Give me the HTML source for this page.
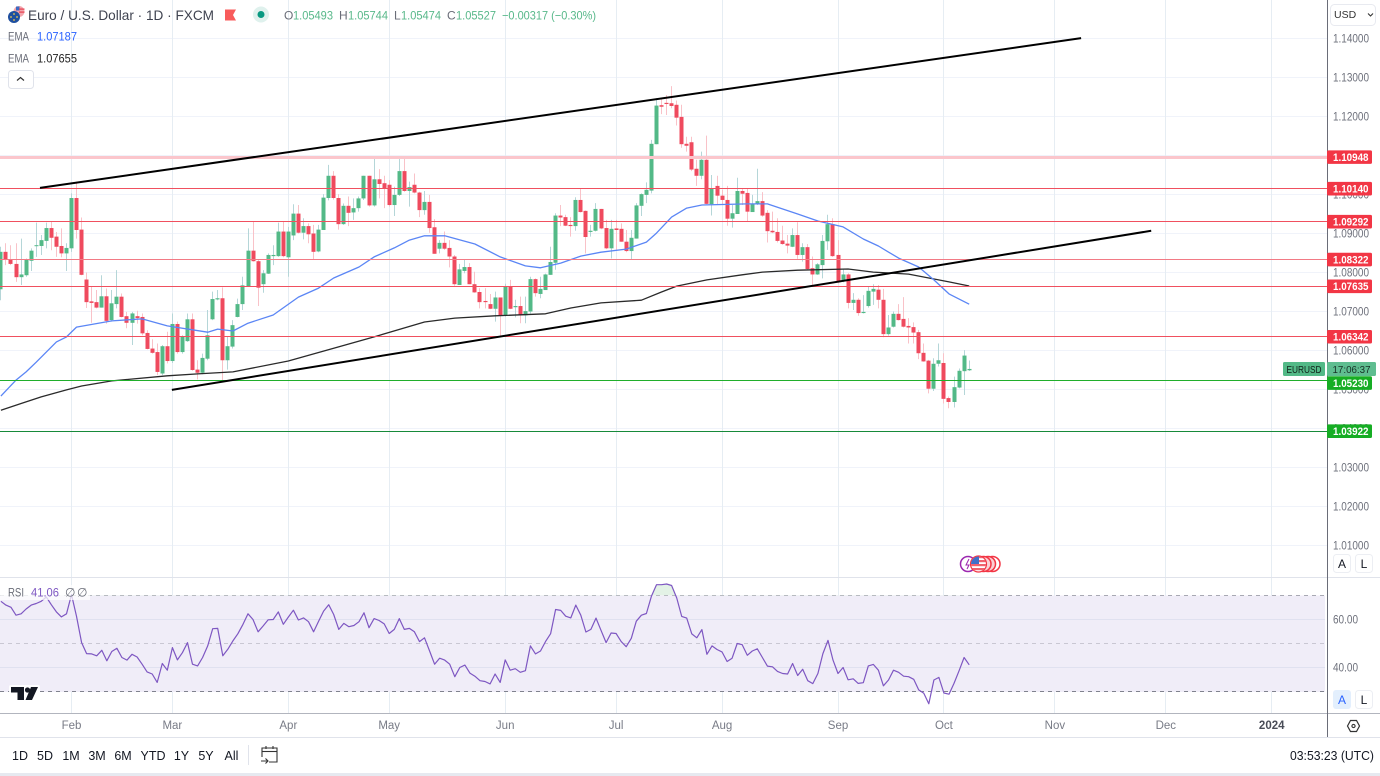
<!DOCTYPE html>
<html lang="en">
<head>
<meta charset="utf-8">
<title>EUR/USD Daily Chart</title>
<style>
html,body{margin:0;padding:0;background:#fff;width:1380px;height:776px;overflow:hidden}
svg{display:block;font-family:"Liberation Sans",sans-serif}
text{white-space:pre}
</style>
</head>
<body>
<svg id="chart" xmlns="http://www.w3.org/2000/svg" width="1380" height="776" viewBox="0 0 1380 776">
  <defs>
    <clipPath id="price-clip"><rect x="0" y="0" width="1327" height="577"/></clipPath>
    <clipPath id="rsi-clip"><rect x="0" y="578" width="1327" height="135"/></clipPath>
    <clipPath id="rsi-over-clip"><rect x="0" y="578" width="1325" height="17.5"/></clipPath>
    <clipPath id="us-flag-clip"><circle cx="978.5" cy="564" r="7.5"/></clipPath>
  </defs>
  <rect x="0" y="0" width="1380" height="776" fill="#ffffff"/>
  <g id="grid-layer"></g>
  <rect x="0" y="595.5" width="1325" height="96.5" fill="#f0edf8"/>
  <g id="rsi-grid-layer"></g>
  <g id="candle-layer" clip-path="url(#price-clip)"></g>
  <g id="overlay-layer" clip-path="url(#price-clip)"></g>
  <g id="rsi-layer" clip-path="url(#rsi-clip)"></g>

  <!-- frame lines -->
  <rect x="0" y="577" width="1380" height="1" fill="#e0e3eb"/>
  <rect x="0" y="713" width="1380" height="1" fill="#b2b5be"/>
  <rect x="1327" y="0" width="1" height="737" fill="#6a6d78"/>
  <rect x="0" y="737" width="1380" height="1" fill="#e0e3eb"/>
  <rect x="0" y="773" width="1380" height="3" fill="#e6e9f0"/>

  <g id="axis-layer"></g>

  <!-- legend -->
  <g>
    <circle cx="19" cy="11.5" r="5.5" fill="#f3a5ad"/>
    <rect x="16" y="6.5" width="3.5" height="4" fill="#3b6cc2"/>
    <rect x="19" y="8.5" width="5.5" height="1.2" fill="#e5404f"/>
    <rect x="19" y="11.5" width="5.5" height="1.2" fill="#e5404f"/>
    <circle cx="14" cy="17" r="6" fill="#1f4f9f"/>
    <circle cx="14" cy="14" r=".9" fill="#f2c94c"/>
    <circle cx="11" cy="17" r=".9" fill="#f2c94c"/>
    <circle cx="17" cy="17" r=".9" fill="#f2c94c"/>
    <circle cx="14" cy="20" r=".9" fill="#f2c94c"/>
  </g>
  <text x="28" y="20" font-size="14" fill="#3f4350" textLength="186" lengthAdjust="spacingAndGlyphs">Euro / U.S. Dollar · 1D · FXCM</text>
  <path d="M225 9.5H236L233 15L236 20.5H225Z" fill="#f85b5b"/>
  <circle cx="261" cy="14.5" r="8" fill="#dff1ed"/>
  <circle cx="261" cy="14.5" r="3.5" fill="#089981"/>
  <g font-size="12">
    <text x="284" y="19.5" fill="#6a6d78">O</text>
    <text x="293" y="19.5" fill="#58b88a" textLength="40" lengthAdjust="spacingAndGlyphs">1.05493</text>
    <text x="339" y="19.5" fill="#6a6d78">H</text>
    <text x="348" y="19.5" fill="#58b88a" textLength="40" lengthAdjust="spacingAndGlyphs">1.05744</text>
    <text x="394" y="19.5" fill="#6a6d78">L</text>
    <text x="401" y="19.5" fill="#58b88a" textLength="40" lengthAdjust="spacingAndGlyphs">1.05474</text>
    <text x="447" y="19.5" fill="#6a6d78">C</text>
    <text x="456" y="19.5" fill="#58b88a" textLength="40" lengthAdjust="spacingAndGlyphs">1.05527</text>
    <text x="502" y="19.5" fill="#58b88a" textLength="94" lengthAdjust="spacingAndGlyphs">−0.00317 (−0.30%)</text>
  </g>
  <g font-size="12">
    <text x="8" y="40.5" fill="#6a6d78" textLength="21" lengthAdjust="spacingAndGlyphs">EMA</text>
    <text x="37" y="40.5" fill="#2962ff" textLength="40" lengthAdjust="spacingAndGlyphs">1.07187</text>
  </g>
  <g font-size="12">
    <text x="8" y="62.5" fill="#6a6d78" textLength="21" lengthAdjust="spacingAndGlyphs">EMA</text>
    <text x="37" y="62.5" fill="#222" textLength="40" lengthAdjust="spacingAndGlyphs">1.07655</text>
  </g>
  <g>
    <rect x="8.5" y="70.5" width="25" height="18" rx="3" fill="#fff" stroke="#e0e3eb"/>
    <path d="M17 80.5L20.5 77.5L24 80.5" fill="none" stroke="#333" stroke-width="1.2"/>
  </g>

  <!-- RSI legend -->
  <rect x="0" y="585" width="90" height="15" fill="#fff" opacity=".72"/>
  <g font-size="12">
    <text x="8" y="596.5" fill="#6a6d78" textLength="16" lengthAdjust="spacingAndGlyphs">RSI</text>
    <text x="31" y="596.5" fill="#7e57c2" textLength="28" lengthAdjust="spacingAndGlyphs">41.06</text>
    <text x="65" y="596.5" fill="#6a6d78">∅</text>
    <text x="77" y="596.5" fill="#6a6d78">∅</text>
  </g>

  <!-- TV logo -->
  <g>
    <rect x="9" y="685" width="31" height="17" rx="2" fill="#fff" opacity=".9"/>
    <path d="M11 687H24V700H17.5V692.5H11Z" fill="#131722"/>
    <circle cx="27.5" cy="690" r="2.6" fill="#131722"/>
    <path d="M31 687H38L32 700H25.5Z" fill="#131722"/>
  </g>

  <!-- events -->
  <g>
    <circle cx="968" cy="564" r="7.5" fill="#fff" stroke="#9c27b0" stroke-width="1.5"/>
    <path d="M969 559L966 565H969L967 569" fill="none" stroke="#9c27b0"/>
    <circle cx="992.5" cy="564" r="7.5" fill="#fff" stroke="#f23645" stroke-width="1.5"/>
    <circle cx="988" cy="564" r="7.5" fill="#fbd0d4" stroke="#f23645" stroke-width="1.5"/>
    <circle cx="983.5" cy="564" r="7.5" fill="#fbd0d4" stroke="#f23645" stroke-width="1.5"/>
    <circle cx="978.5" cy="564" r="8" fill="#fff" stroke="#f23645" stroke-width="1.2"/>
    <g clip-path="url(#us-flag-clip)">
      <rect x="970" y="556" width="17" height="2.2" fill="#f0616d"/>
      <rect x="970" y="560" width="17" height="2.2" fill="#f0616d"/>
      <rect x="970" y="564" width="17" height="2.2" fill="#f0616d"/>
      <rect x="970" y="568" width="17" height="2.2" fill="#f0616d"/>
      <rect x="970" y="556" width="9" height="8" fill="#3f6fc9"/>
    </g>
  </g>

  <!-- USD selector -->
  <g>
    <rect x="1330.5" y="4.5" width="45" height="21" rx="4" fill="#fff" stroke="#e8eaf0"/>
    <text x="1334" y="18" font-size="10.5" fill="#333">USD</text>
    <path d="M1368 13.5L1370.5 16L1373 13.5" fill="none" stroke="#333" stroke-width="1.1"/>
  </g>

  <!-- series label -->
  <g>
    <rect x="1283" y="362" width="42" height="14" rx="1.5" fill="#53b987"/>
    <text x="1304" y="372.8" font-size="10.5" fill="#102018" text-anchor="middle" textLength="35" lengthAdjust="spacingAndGlyphs">EURUSD</text>
    <rect x="1327" y="362" width="49" height="14" rx="1.5" fill="#5fbd90"/>
    <text x="1351.5" y="372.8" font-size="10.5" fill="#173026" text-anchor="middle" textLength="38" lengthAdjust="spacingAndGlyphs">17:06:37</text>
  </g>

  <!-- scale buttons -->
  <g>
    <rect x="1333.5" y="554.5" width="17" height="18" rx="3" fill="#fff" stroke="#eceef3"/>
    <text x="1342" y="568" font-size="12" fill="#131722" text-anchor="middle">A</text>
  </g>
  <g>
    <rect x="1355.5" y="554.5" width="17" height="18" rx="3" fill="#fff" stroke="#eceef3"/>
    <text x="1364" y="568" font-size="12" fill="#131722" text-anchor="middle">L</text>
  </g>
  <g>
    <rect x="1333" y="690" width="18" height="19" rx="3" fill="#e3effd"/>
    <text x="1342" y="704" font-size="12" fill="#2962ff" text-anchor="middle">A</text>
  </g>
  <g>
    <rect x="1355.5" y="690.5" width="17" height="18" rx="3" fill="#fff" stroke="#eceef3"/>
    <text x="1364" y="704" font-size="12" fill="#131722" text-anchor="middle">L</text>
  </g>
  <g>
    <path d="M1347.5 726L1350.5 720.5H1356.5L1359.5 726L1356.5 731.5H1350.5Z" fill="none" stroke="#333" stroke-width="1.2"/>
    <circle cx="1353.5" cy="726" r="1.6" fill="none" stroke="#333" stroke-width="1.1"/>
  </g>

  <!-- bottom toolbar -->
  <g font-size="12.5" fill="#131722" text-anchor="middle">
    <text x="20" y="760">1D</text>
    <text x="45" y="760">5D</text>
    <text x="71" y="760">1M</text>
    <text x="97" y="760">3M</text>
    <text x="123" y="760">6M</text>
    <text x="153" y="760">YTD</text>
    <text x="181.5" y="760">1Y</text>
    <text x="206" y="760">5Y</text>
    <text x="231.5" y="760">All</text>
  </g>
  <rect x="248" y="745" width="1" height="20" fill="#e0e3eb"/>
  <g fill="none" stroke="#333" stroke-width="1.1">
    <path d="M262 757V748H277V762H269"/>
    <path d="M262 751.5H277"/>
    <path d="M266 746V749M273 746V749"/>
    <path d="M261 761H268M265.5 758.5L268 761L265.5 763.5"/>
  </g>
  <text x="1374" y="760" font-size="12.5" fill="#131722" text-anchor="end" textLength="84" lengthAdjust="spacingAndGlyphs">03:53:23 (UTC)</text>
</svg>

<script>
// ===== chart data =====
const opens = [
1.0757,1.0853,1.0834,1.0822,1.0788,1.0793,1.0830,1.0868,1.0868,1.0881,
1.0914,1.0892,1.0868,1.0849,1.0862,1.0991,1.0910,1.0782,1.0726,1.0724,
1.0710,1.0739,1.0678,1.0719,1.0738,1.0688,1.0671,1.0688,1.0686,1.0645,
1.0605,1.0596,1.0541,1.0611,1.0573,1.0668,1.0596,1.0624,1.0680,1.0551,
1.0543,1.0579,1.0680,1.0731,1.0734,1.0575,1.0610,1.0686,1.0719,1.0765,
1.0856,1.0829,1.0770,1.0797,1.0842,1.0842,1.0905,1.0839,1.0895,1.0951,
1.0902,1.0919,1.0900,1.0854,1.0909,1.0991,1.1048,1.0991,1.0924,1.0971,
1.0954,1.0965,1.0990,1.1048,1.0972,1.1039,1.1029,1.1025,1.0973,1.0999,
1.1060,1.1009,1.1025,1.1005,1.0960,1.0981,1.0916,1.0861,1.0876,1.0863,
1.0841,1.0768,1.0804,1.0814,1.0770,1.0750,1.0727,1.0719,1.0707,1.0736,
1.0689,1.0764,1.0711,1.0714,1.0690,1.0700,1.0783,1.0745,1.0755,1.0794,
1.0825,1.0946,1.0942,1.0922,1.0919,1.0986,1.0958,1.0904,1.0907,1.0963,
1.0914,1.0862,1.0913,1.0912,1.0879,1.0855,1.0887,1.0971,1.0999,1.1010,
1.1129,1.1229,1.1235,1.1234,1.1230,1.1199,1.1130,1.1134,1.1066,1.1048,
1.1089,1.0975,1.1022,1.0997,1.0986,1.0938,1.0950,1.1009,1.1004,1.0955,
1.0975,1.0983,1.0953,1.0907,1.0904,1.0882,1.0874,1.0866,1.0896,1.0845,
1.0865,1.0811,1.0795,1.0819,1.0880,1.0924,1.0845,1.0777,1.0795,1.0722,
1.0730,1.0696,1.0714,1.0751,1.0756,1.0730,1.0642,1.0661,1.0694,1.0681,
1.0663,1.0660,1.0647,1.0594,1.0574,1.0502,1.0566,1.0568,1.0478,1.0468,
1.0505,1.0547,1.05493];
const closes = [
1.0853,1.0834,1.0822,1.0788,1.0795,1.0834,1.0856,1.0870,1.0883,1.0914,
1.0889,1.0866,1.0849,1.0863,1.0991,1.0909,1.0794,1.0724,1.0722,1.0710,
1.0739,1.0676,1.0721,1.0738,1.0686,1.0671,1.0695,1.0683,1.0644,1.0604,
1.0594,1.0545,1.0611,1.0573,1.0668,1.0596,1.0635,1.0680,1.0550,1.0543,
1.0581,1.0639,1.0732,1.0734,1.0575,1.0611,1.0665,1.0719,1.0767,1.0856,
1.0829,1.0761,1.0798,1.0845,1.0845,1.0905,1.0842,1.0905,1.0951,1.0902,
1.0919,1.0898,1.0853,1.0910,1.0992,1.1048,1.0991,1.0924,1.0971,1.0953,
1.0965,1.0990,1.1048,1.0972,1.1039,1.1027,1.1015,1.0973,1.0999,1.1060,
1.1009,1.1019,1.1005,1.0960,1.0981,1.0914,1.0848,1.0876,1.0861,1.0841,
1.0770,1.0808,1.0814,1.0770,1.0749,1.0724,1.0724,1.0707,1.0736,1.0689,
1.0764,1.0707,1.0714,1.0690,1.0701,1.0783,1.0747,1.0758,1.0795,1.0827,
1.0946,1.0941,1.0920,1.0919,1.0986,1.0955,1.0891,1.0907,1.0963,1.0913,
1.0862,1.0912,1.0909,1.0879,1.0855,1.0889,1.0972,1.1001,1.1012,1.1130,
1.1228,1.1225,1.1232,1.1227,1.1197,1.1129,1.1125,1.1064,1.1048,1.1089,
1.0976,1.1016,1.0997,1.0986,1.0938,1.0952,1.1009,1.1002,1.0956,1.0975,
1.0983,1.0946,1.0906,1.0903,1.0881,1.0873,1.0869,1.0896,1.0845,1.0865,
1.0809,1.0795,1.0821,1.0881,1.0924,1.0842,1.0775,1.0795,1.0722,1.0730,
1.0696,1.0699,1.0753,1.0758,1.0730,1.0642,1.0659,1.0694,1.0678,1.0661,
1.0659,1.0646,1.0593,1.0572,1.0502,1.0566,1.0575,1.0476,1.0468,1.0506,
1.0548,1.0587,1.05527];
const highs = [
1.0866,1.0875,1.0870,1.0875,1.0887,1.0836,1.0862,1.0928,1.0896,1.0928,
1.0930,1.0904,1.0913,1.0875,1.1003,1.1033,1.0941,1.0800,1.0765,1.0755,
1.0793,1.0759,1.0755,1.0806,1.0746,1.0699,1.0699,1.0702,1.0695,1.0652,
1.0629,1.0618,1.0614,1.0648,1.0695,1.0674,1.0639,1.0695,1.0695,1.0575,
1.0592,1.0704,1.0751,1.0755,1.0762,1.0635,1.0678,1.0733,1.0789,1.0913,
1.0931,1.0832,1.0806,1.0849,1.0870,1.0928,1.0930,1.0917,1.0975,1.0973,
1.0939,1.0926,1.0922,1.0922,1.1001,1.1076,1.1060,1.1001,1.0977,1.0995,
1.0990,1.0995,1.1048,1.1048,1.1096,1.1065,1.1048,1.1037,1.1020,1.1096,
1.1096,1.1033,1.1054,1.1007,1.1009,1.0999,1.0937,1.0883,1.0905,1.0883,
1.0845,1.0822,1.0834,1.0824,1.0802,1.0760,1.0760,1.0745,1.0751,1.0736,
1.0771,1.0781,1.0730,1.0738,1.0738,1.0789,1.0785,1.0789,1.0797,1.0866,
1.0952,1.0973,1.0948,1.0942,1.0993,1.1014,1.0959,1.0922,1.0978,1.0963,
1.0935,1.0935,1.0935,1.0926,1.0909,1.0909,1.0978,1.1003,1.1031,1.1140,
1.1247,1.1247,1.1255,1.1278,1.1241,1.1230,1.1148,1.1148,1.1089,1.1110,
1.1151,1.1050,1.1048,1.1012,1.1022,1.0973,1.1043,1.1016,1.1016,1.0999,
1.1066,1.1006,1.0960,1.0956,1.0939,1.0920,1.0896,1.0913,1.0929,1.0875,
1.0873,1.0841,1.0824,1.0896,1.0948,1.0939,1.0883,1.0809,1.0798,1.0747,
1.0734,1.0742,1.0764,1.0770,1.0768,1.0758,1.0691,1.0700,1.0719,1.0737,
1.0683,1.0672,1.0653,1.0618,1.0576,1.0580,1.0618,1.0593,1.0482,1.0533,
1.0554,1.0601,1.05744];
const lows = [
1.0729,1.0819,1.0819,1.0776,1.0768,1.0789,1.0804,1.0840,1.0845,1.0862,
1.0857,1.0840,1.0839,1.0804,1.0853,1.0887,1.0793,1.0709,1.0671,1.0708,
1.0710,1.0669,1.0674,1.0708,1.0685,1.0657,1.0614,1.0669,1.0639,1.0603,
1.0592,1.0537,1.0537,1.0567,1.0568,1.0592,1.0592,1.0622,1.0548,1.0526,
1.0539,1.0575,1.0678,1.0729,1.0524,1.0551,1.0605,1.0685,1.0704,1.0763,
1.0828,1.0714,1.0748,1.0796,1.0819,1.0840,1.0839,1.0789,1.0883,1.0900,
1.0885,1.0875,1.0834,1.0852,1.0909,1.0985,1.0987,1.0910,1.0922,1.0919,
1.0935,1.0956,1.0986,1.0969,1.0969,1.0990,1.0965,1.0969,1.0945,1.0996,
1.1007,1.0969,1.1003,1.0942,1.0948,1.0902,1.0848,1.0849,1.0858,1.0813,
1.0766,1.0768,1.0798,1.0770,1.0748,1.0708,1.0708,1.0706,1.0674,1.0636,
1.0687,1.0706,1.0685,1.0670,1.0670,1.0695,1.0738,1.0734,1.0755,1.0794,
1.0807,1.0919,1.0919,1.0892,1.0907,1.0954,1.0849,1.0892,1.0905,1.0911,
1.0860,1.0836,1.0858,1.0879,1.0852,1.0834,1.0887,1.0945,1.0978,1.1003,
1.1129,1.1206,1.1204,1.1221,1.1177,1.1120,1.1110,1.1060,1.1022,1.1039,
1.0975,1.0946,1.0973,1.0973,1.0920,1.0915,1.0950,1.0973,1.0932,1.0955,
1.0973,1.0943,1.0877,1.0901,1.0877,1.0871,1.0849,1.0865,1.0835,1.0828,
1.0806,1.0768,1.0794,1.0785,1.0858,1.0840,1.0772,1.0775,1.0708,1.0704,
1.0689,1.0695,1.0710,1.0717,1.0708,1.0634,1.0638,1.0659,1.0677,1.0659,
1.0618,1.0618,1.0578,1.0571,1.0490,1.0496,1.0559,1.0464,1.0452,1.0454,
1.0503,1.0486,1.05474];
const rsiValues = [
67.5,65.9,65.0,61.7,62.3,64.3,65.9,66.6,67.5,69.3,
66.1,63.1,61.0,62.3,70.3,61.3,50.3,45.7,45.6,44.8,
47.1,42.7,46.6,47.9,44.1,43.0,45.4,44.3,41.3,38.1,
37.2,33.7,41.6,38.8,48.2,43.1,46.1,50.3,41.3,40.6,
44.1,48.9,56.1,56.2,44.8,47.5,51.0,54.0,57.9,62.3,
59.9,54.8,57.2,59.8,59.9,63.1,57.9,60.9,63.8,59.7,
60.6,59.0,54.8,59.2,63.4,66.1,62.0,55.8,58.3,56.9,
57.4,59.0,62.7,56.5,60.3,59.5,58.1,54.1,55.8,60.3,
55.8,56.2,54.8,50.7,52.3,46.8,41.3,43.8,43.0,41.3,
36.1,39.9,40.9,37.6,36.3,34.4,34.1,33.1,37.2,33.7,
43.1,38.8,39.4,37.9,38.6,48.9,45.6,46.8,50.7,54.0,
64.1,63.7,61.3,60.6,65.9,61.7,54.7,55.8,60.5,55.4,
50.3,54.3,54.1,50.7,48.6,52.1,59.2,61.7,62.4,69.6,
74.4,74.4,74.7,74.1,68.9,61.2,60.5,53.9,52.3,55.7,
45.4,48.9,47.4,46.4,42.4,43.8,49.9,49.4,45.0,46.8,
47.7,44.1,40.5,40.2,38.3,37.4,37.2,41.6,36.6,39.2,
34.4,33.2,37.4,45.7,51.2,43.0,37.4,39.9,34.8,35.2,
33.3,33.6,40.6,41.2,38.8,32.3,34.7,38.8,37.9,36.3,
36.1,35.0,30.6,29.2,24.8,34.7,35.8,29.3,28.8,33.3,
38.6,44.1,41.06];
const firstBar = -14;

const ema50Bars = [-14,-11,-9,-7,-3,-1,1,8,14,19,27,29,32,35,40,45,49,52,57,60,64,67,70,74,80,85,90,93,97,101,105,110,114,116,119,122,125,134,138,144,148,153,157,160,164,168,171,174,178];
const ema50Values = [1.0483,1.0524,1.0545,1.0570,1.0622,1.0635,1.0660,1.0676,1.0681,1.0663,1.0647,1.0655,1.0650,1.0670,1.0691,1.0737,1.0760,1.0786,1.0814,1.0840,1.0863,1.0883,1.0894,1.0894,1.0873,1.0840,1.0817,1.0812,1.0824,1.0842,1.0852,1.0860,1.0878,1.0901,1.0942,1.0965,1.0973,1.0976,1.0976,1.0950,1.0932,1.0917,1.0886,1.0868,1.0837,1.0814,1.0781,1.0745,1.07187];
const ema200Bars = [-14,-10,-6,-1,2,8,19,25,32,43,52,60,70,76,84,94,99,105,113,117,120,126,133,137,144,154,159,166,174,178];
const ema200Values = [1.0447,1.0464,1.0481,1.0499,1.0509,1.0522,1.0535,1.0540,1.0545,1.0573,1.0606,1.0635,1.0673,1.0683,1.0689,1.0694,1.0709,1.0722,1.0729,1.0750,1.0765,1.0781,1.0794,1.0801,1.0806,1.0809,1.0801,1.0796,1.0776,1.07655];

const trendUpperBars = [-6.25,200.2];
const trendUpperPrices = [1.1017,1.1401];
const trendLowerBars = [19.9,214.1];
const trendLowerPrices = [1.0499,1.0907];

const levelPrices = [1.10948,1.10140,1.09292,1.08322,1.07635,1.06342,1.05230,1.03922];
const levelLabels = ["1.10948","1.10140","1.09292","1.08322","1.07635","1.06342","1.05230","1.03922"];
const levelKinds = ["soft","res","res","pale","res","res","sup","supdark"];

const priceTicks = [1.14,1.13,1.12,1.11,1.10,1.09,1.08,1.07,1.06,1.05,1.04,1.03,1.02,1.01];
const priceTickLabels = ["1.14000","1.13000","1.12000","1.11000","1.10000","1.09000","1.08000","1.07000","1.06000","1.05000","1.04000","1.03000","1.02000","1.01000"];
const rsiTicks = [60,40];
const rsiTickLabels = ["60.00","40.00"];
const rsiBandLevels = [70,50,30];
const rsiBandColors = ["#a8a9b3","#c9c7d3","#80828e"];
const monthBars = [0,20,43,63,86,108,129,152,173,195,217,238];
const monthLabels = ["Feb","Mar","Apr","May","Jun","Jul","Aug","Sep","Oct","Nov","Dec","2024"];

// ===== axis functions =====
function xScale(bar){ return 71.5 + bar * 5.043; }
function yScale(price){ return 38.5 + (1.14 - price) * 3900; }
function rsiScale(v){ return 619.3 + (60 - v) * 2.4; }
function crisp(v){ return Math.floor(v) + 0.5; }

const NS = 'http://www.w3.org/2000/svg';
function make(tag, attrs, parent){
  const el = document.createElementNS(NS, tag);
  for (const k in attrs) el.setAttribute(k, attrs[k]);
  parent.appendChild(el);
  return el;
}
const grid = document.getElementById('grid-layer');
const rsiGrid = document.getElementById('rsi-grid-layer');
const candleLayer = document.getElementById('candle-layer');
const overlay = document.getElementById('overlay-layer');
const rsiLayer = document.getElementById('rsi-layer');
const axisLayer = document.getElementById('axis-layer');

// horizontal price grid + tick labels
priceTicks.forEach(function(p, i){
  const y = crisp(yScale(p));
  const line = make('line', {x1:0, x2:1327, y1:y, y2:y, stroke:'#f0f3fa', 'stroke-width':1}, grid);
  
  
  const t = make('text', {x:1333, y:y+4, 'font-size':11.5, fill:'#6d707b', textLength:36, lengthAdjust:'spacingAndGlyphs'}, axisLayer);
  
  
  t.textContent = priceTickLabels[i];
});

// vertical month grid + labels
monthBars.forEach(function(b, i){
  const x = crisp(xScale(b));
  const line = make('line', {x1:x, x2:x, y1:0, y2:713, stroke:'#e6edf3', 'stroke-width':1}, grid);
  
  
  const isYear = monthLabels[i] === '2024';
  const t = make('text', {x:xScale(b), y:729, 'font-size':11.5, fill:isYear ? '#4a4d58' : '#787b86', 'font-weight':isYear ? 'bold' : 'normal', 'text-anchor':'middle'}, axisLayer);
  
  
  t.textContent = monthLabels[i];
});

// RSI grid and bands
rsiTicks.forEach(function(v, i){
  const y = crisp(rsiScale(v));
  const line = make('line', {x1:0, x2:1325, y1:y, y2:y, stroke:'#e0e1f0', 'stroke-width':1}, rsiGrid);
  
  
  const t = make('text', {x:1333, y:y+4, 'font-size':11.5, fill:'#6d707b', textLength:25, lengthAdjust:'spacingAndGlyphs'}, axisLayer);
  
  
  t.textContent = rsiTickLabels[i];
});
rsiBandLevels.forEach(function(v, i){
  const y = crisp(rsiScale(v));
  const line = make('line', {x1:0, x2:1325, y1:y, y2:y, stroke:rsiBandColors[i], 'stroke-width':1, 'stroke-dasharray':'4 4'}, rsiGrid);
  
  
});

// candles
closes.forEach(function(c, i){
  const bar = firstBar + i;
  const o = opens[i], up = c >= o;
  const x = xScale(bar);
  const wx = Math.round(x - 0.5) + 0.5;
  const wick = make('line', {x1:wx, x2:wx, y1:yScale(highs[i]), y2:yScale(lows[i]), stroke:up ? '#b5d6d8' : '#f9c2c8', 'stroke-width':1}, candleLayer);
  
  
  const top = yScale(Math.max(o, c)), bot = yScale(Math.min(o, c));
  const body = make('rect', {x:wx - 2, y:top, width:4, height:Math.max(bot - top, 1), fill:up ? '#53b987' : '#ef4a5e'}, candleLayer);
  
  
});

// EMA lines
function linePath(bars, values){
  return bars.map(function(b, i){
    return (i ? 'L' : 'M') + xScale(b).toFixed(1) + ' ' + yScale(values[i]).toFixed(1);
  }).join('');
}
const ema200Line = make('path', {d:linePath(ema200Bars, ema200Values), fill:'none', stroke:'#2a2a2a', 'stroke-width':1.3, 'stroke-linejoin':'round'}, overlay);


const ema50Line = make('path', {d:linePath(ema50Bars, ema50Values), fill:'none', stroke:'#5b86f5', 'stroke-width':1.3, 'stroke-linejoin':'round'}, overlay);



// horizontal levels
const levelStroke = {soft:'#fbc6cc', res:'#f0505f', pale:'#f27a85', sup:'#1fae2c', supdark:'#178a3a'};
const levelBox = {soft:'#f23645', res:'#f23645', pale:'#f23645', sup:'#16ad24', supdark:'#16ad24'};
levelPrices.forEach(function(p, i){
  const y = crisp(yScale(p) - 0.5);
  const kind = levelKinds[i];
  const line = make('line', {x1:0, x2:1327, y1:y, y2:y, stroke:levelStroke[kind], 'stroke-width':kind === 'soft' ? 3 : 1}, overlay);
  
  
});

// trend lines
const upperTrend = make('line', {x1:xScale(trendUpperBars[0]), y1:yScale(trendUpperPrices[0]), x2:xScale(trendUpperBars[1]), y2:yScale(trendUpperPrices[1]), stroke:'#000', 'stroke-width':2}, overlay);


const lowerTrend = make('line', {x1:xScale(trendLowerBars[0]), y1:yScale(trendLowerPrices[0]), x2:xScale(trendLowerBars[1]), y2:yScale(trendLowerPrices[1]), stroke:'#000', 'stroke-width':2}, overlay);



// level labels on the axis (the green 1.05230 box is nudged below the series label)
levelPrices.forEach(function(p, i){
  let cy = yScale(p) - 0.4;
  if (levelLabels[i] === '1.05230') cy = cy + 2.9;
  const box = make('rect', {x:1327, y:cy - 6.8, width:45, height:13.6, rx:1.5, fill:levelBox[levelKinds[i]]}, axisLayer);
  
  
  const t = make('text', {x:1333, y:cy + 3.9, 'font-size':11, 'font-weight':'bold', fill:'#fff', textLength:35.5, lengthAdjust:'spacingAndGlyphs'}, axisLayer);
  
  
  t.textContent = levelLabels[i];
});

// RSI line and overbought fill
const rsiPts = rsiValues.map(function(v, i){
  return xScale(firstBar + i).toFixed(1) + ',' + rsiScale(v).toFixed(1);
});
const band70 = rsiScale(70).toFixed(1);
const overFill = make('polygon', {
  points: xScale(firstBar).toFixed(1) + ',' + band70 + ' ' + rsiPts.join(' ') + ' ' + xScale(firstBar + rsiValues.length - 1).toFixed(1) + ',' + band70,
  fill:'#e3f2e6', 'clip-path':'url(#rsi-over-clip)'
}, rsiLayer);


const rsiLine = make('polyline', {points:rsiPts.join(' '), fill:'none', stroke:'#7e57c2', 'stroke-width':1.2, 'stroke-linejoin':'round'}, rsiLayer);


</script>
</body>
</html>
